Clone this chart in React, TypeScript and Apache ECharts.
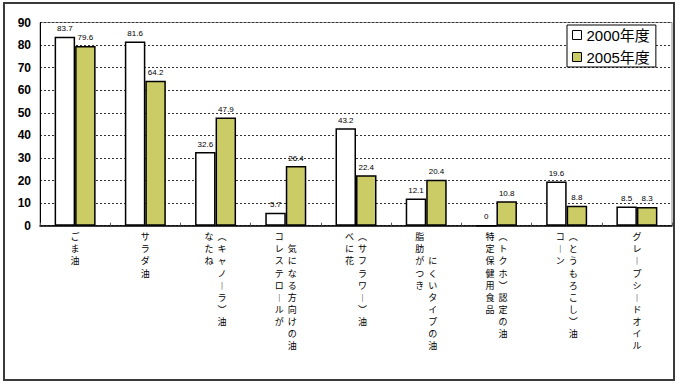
import React, { useEffect, useRef } from "react";
import * as echarts from "echarts";

const categories = [
  "ごま油",
  "サラダ油",
  "なたね（キャノーラ）油",
  "コレステロールが気になる方向けの油",
  "べに花（サフラワー）油",
  "脂肪がつきにくいタイプの油",
  "特定保健用食品（トクホ）認定の油",
  "コーン（とうもろこし）油",
  "グレープシードオイル",
];

// how each category name is split into vertical columns (left to right)
const labelColumns: string[][] = [
  ["ごま油"],
  ["サラダ油"],
  ["なたね", "（キャノーラ）油"],
  ["コレステロールが", "気になる方向けの油"],
  ["べに花", "（サフラワー）油"],
  ["脂肪がつき", "にくいタイプの油"],
  ["特定保健用食品", "（トクホ）認定の油"],
  ["コーン", "（とうもろこし）油"],
  ["グレープシードオイル"],
];
// number of empty rows before the second column starts
const secondColumnOffset = [0, 0, 0, 1, 0, 2, 0, 0, 0];

const seriesNames = ["2000年度", "2005年度"];
const values2000 = [83.7, 81.6, 32.6, 5.7, 43.2, 12.1, 0, 19.6, 8.5];
const values2005 = [79.6, 64.2, 47.9, 26.4, 22.4, 20.4, 10.8, 8.8, 8.3];

const yMin = 0;
const yMax = 90;
const yInterval = 10;

const verticalMap: Record<string, string> = { "（": "︵", "）": "︶", "ー": "︱" };
const toVertical = (s: string) =>
  Array.from(s).map((c) => verticalMap[c] || c);

function buildLabel(index: number): string {
  const cols = labelColumns[index];
  const c1 = toVertical(cols[0]);
  if (cols.length === 1) {
    return c1.map((c) => `{s|${c}}`).join("\n");
  }
  const off = secondColumnOffset[index];
  const c2 = toVertical(cols[1]);
  const rows = Math.max(c1.length, c2.length + off);
  const out: string[] = [];
  for (let i = 0; i < rows; i++) {
    const a = c1[i] || "　";
    const b = i - off >= 0 && c2[i - off] ? c2[i - off] : "　";
    out.push(`{c|${a}}{c|${b}}`);
  }
  return out.join("\n");
}

export default function App() {
  const ref = useRef<HTMLDivElement>(null);
  useEffect(() => {
    if (!ref.current) return;
    const chart = echarts.init(ref.current, undefined, { renderer: "svg" });
    const labelFont = "'Noto Sans CJK JP', 'Noto Sans', 'DejaVu Sans', sans-serif";
    const legendFont = "'Liberation Sans', 'Noto Sans CJK JP', sans-serif";
    const dataLabel = {
      show: true,
      position: "top" as const,
      distance: 4,
      fontSize: 8,
      color: "#000",
      fontFamily: "'Liberation Sans', Arial, sans-serif",
    };
    chart.setOption({
      animation: false,
      backgroundColor: "#fff",
      grid: {
        left: 40,
        right: 8,
        top: 22.5,
        bottom: 159.3,
        show: true,
        borderColor: "#8a8a8a",
        borderWidth: 1,
      },
      legend: {
        orient: "vertical",
        left: 567,
        top: 25,
        padding: [2, 6, 2, 5],
        itemGap: 6,
        itemWidth: 9,
        itemHeight: 9,
        icon: "rect",
        itemStyle: { borderWidth: 1, borderColor: "#000" },
        backgroundColor: "#fff",
        borderColor: "#000",
        borderWidth: 1,
        borderRadius: 0,
        textStyle: {
          fontSize: 15,
          color: "#000",
          fontFamily: legendFont,
          lineHeight: 16,
        },
        data: seriesNames,
      },
      xAxis: {
        type: "category",
        data: categories,
        axisLine: { lineStyle: { color: "#000", width: 1.5 } },
        axisTick: { show: true, inside: true, length: 3, lineStyle: { color: "#555" } },
        axisLabel: {
          interval: 0,
          margin: 5,
          align: "center",
          verticalAlign: "top",
          formatter: (_v: string, i: number) => buildLabel(i),
          rich: {
            s: { fontSize: 9, lineHeight: 12.1, color: "#000", fontFamily: labelFont, align: "center" },
            c: { fontSize: 9, lineHeight: 12.1, width: 13, color: "#000", fontFamily: labelFont, align: "center" },
          },
        },
      },
      yAxis: {
        type: "value",
        min: yMin,
        max: yMax,
        interval: yInterval,
        axisLine: { show: true, lineStyle: { color: "#000", width: 1 } },
        axisTick: { show: false },
        axisLabel: {
          margin: 9,
          fontSize: 12,
          fontWeight: "bold",
          color: "#000",
          fontFamily: "'Liberation Sans', Arial, sans-serif",
        },
        splitLine: { show: true, lineStyle: { color: "#333", type: [2, 2], width: 1 } },
      },
      graphic: [
        {
          type: "rect",
          shape: { x: 4, y: 3, width: 670, height: 377 },
          style: { fill: "none", stroke: "#3a3a3a", lineWidth: 2 },
          silent: true,
          z: 100,
        },
      ],
      series: [
        {
          name: seriesNames[0],
          type: "bar",
          data: values2000,
          barWidth: 20.5,
          barGap: "0%",
          itemStyle: { color: "#fff", borderColor: "#000", borderWidth: 1.5 },
          label: dataLabel,
        },
        {
          name: seriesNames[1],
          type: "bar",
          data: values2005,
          barWidth: 20.5,
          barGap: "0%",
          itemStyle: { color: "#cccc66", borderColor: "#000", borderWidth: 1.5 },
          label: dataLabel,
        },
      ],
    });
    return () => chart.dispose();
  }, []);
  return (
    <div
      ref={ref}
      style={{ position: "fixed", left: 0, top: 0, width: 680, height: 385 }}
    />
  );
}
